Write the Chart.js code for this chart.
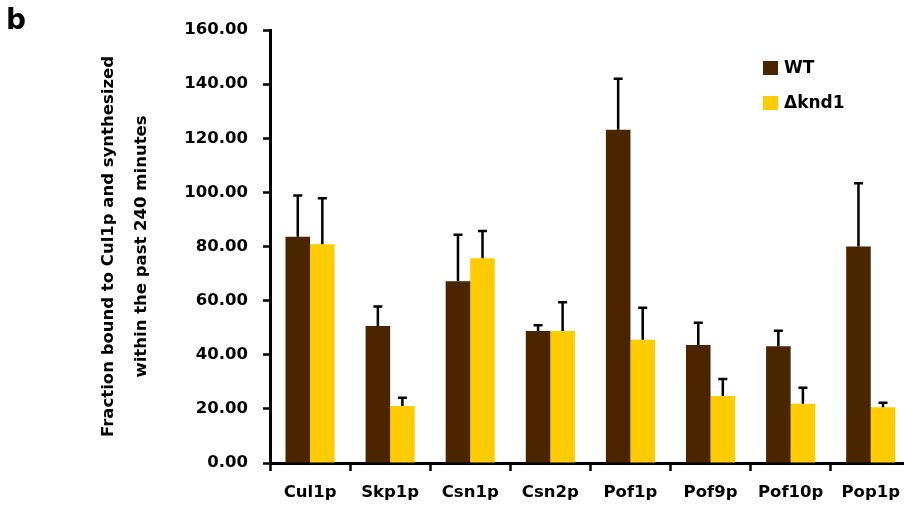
<!DOCTYPE html>
<html>
<head>
<meta charset="utf-8">
<script src="https://cdn.jsdelivr.net/npm/chart.js@4.4.1/dist/chart.umd.min.js"></script>
<style>
  html, body { margin: 0; padding: 0; background: #fff; overflow: hidden; width: 904px; height: 508px; }
  #wrap { position: relative; width: 912px; height: 508px; }
  #panel { position: absolute; left: 6px; top: 3px; font: bold 28px "DejaVu Sans"; color: #000; }
</style>
</head>
<body>
<div id="wrap">
  <canvas id="c" width="912" height="508"></canvas>
  <div id="panel">b</div>
</div>
<script>
// ---- data ----
const categories = ["Cul1p", "Skp1p", "Csn1p", "Csn2p", "Pof1p", "Pof9p", "Pof10p", "Pop1p"];
const wtValues   = [83.6, 50.6, 67.2, 48.8, 123.1, 43.6, 43.1, 80.0];
const wtErrors   = [15.2, 7.2, 17.1, 2.1, 18.9, 8.2, 5.8, 23.4];
const kndValues  = [80.8, 21.1, 75.7, 48.8, 45.5, 24.8, 21.9, 20.6];
const kndErrors  = [17.0, 3.0, 10.0, 10.6, 11.9, 6.2, 5.9, 1.7];
const seriesLabels = ["WT", "\u0394knd1"];
const yTicks = [0, 20, 40, 60, 80, 100, 120, 140, 160];

const FONT = "DejaVu Sans";

const errorBarPlugin = {
  id: 'errorBars',
  afterDatasetsDraw(chart) {
    const ctx = chart.ctx;
    const y = chart.scales.y;
    ctx.save();
    ctx.strokeStyle = '#000';
    ctx.lineWidth = 2.5;
    chart.data.datasets.forEach((ds, i) => {
      const meta = chart.getDatasetMeta(i);
      meta.data.forEach((bar, j) => {
        const top = y.getPixelForValue(ds.data[j] + ds.errors[j]);
        ctx.beginPath();
        ctx.moveTo(bar.x, bar.y);
        ctx.lineTo(bar.x, top);
        ctx.moveTo(bar.x - 4.5, top);
        ctx.lineTo(bar.x + 4.5, top);
        ctx.stroke();
      });
    });
    ctx.restore();
  }
};

const legendPlugin = {
  id: 'customLegend',
  afterDraw(chart) {
    const ctx = chart.ctx;
    ctx.save();
    ctx.font = 'bold 17px "' + FONT + '"';
    ctx.textBaseline = 'middle';
    ctx.textAlign = 'left';
    chart.data.datasets.forEach((ds, i) => {
      const cy = 68 + i * 35;
      ctx.fillStyle = ds.backgroundColor;
      ctx.fillRect(763, cy - 7, 15, 14);
      ctx.fillStyle = '#000';
      ctx.fillText(ds.label, 784, cy + 1);
    });
    ctx.restore();
  }
};

new Chart(document.getElementById('c'), {
  type: 'bar',
  data: {
    labels: categories,
    datasets: [
      { label: seriesLabels[0], data: wtValues, errors: wtErrors, backgroundColor: '#4a2500',
        categoryPercentage: 0.613, barPercentage: 1.0 },
      { label: seriesLabels[1], data: kndValues, errors: kndErrors, backgroundColor: '#ffcc00',
        categoryPercentage: 0.613, barPercentage: 1.0 }
    ]
  },
  options: {
    responsive: false,
    devicePixelRatio: 1,
    animation: false,
    layout: { padding: { top: 30, right: 0, left: 0, bottom: 0 } },
    plugins: {
      legend: { display: false },
      tooltip: { enabled: false }
    },
    scales: {
      x: {
        grid: { display: true, drawOnChartArea: false, drawTicks: true, tickLength: 8,
                tickColor: '#000', tickWidth: 2.5, offset: true },
        border: { display: true, color: '#000', width: 3 },
        ticks: { color: '#000', font: { family: FONT, size: 16.5, weight: 'bold' }, padding: 12 },
        afterFit(scale) { scale.height = 45; }
      },
      y: {
        min: 0, max: 160,
        afterBuildTicks(scale) { scale.ticks = yTicks.map(v => ({ value: v })); },
        grid: { display: true, drawOnChartArea: false, drawTicks: true, tickLength: 7,
                tickColor: '#000', tickWidth: 2.5 },
        border: { display: true, color: '#000', width: 3 },
        ticks: { color: '#000', font: { family: FONT, size: 16.5, weight: 'bold' }, padding: 15,
                 callback: v => Number(v).toFixed(2) },
        title: {
          display: true,
          text: ["Fraction bound to Cul1p and synthesized", "within the past 240 minutes"],
          color: '#000',
          font: { family: FONT, size: 16.5, weight: 'bold', lineHeight: 1.95 },
          padding: { top: 93, bottom: 0 }
        },
        afterFit(scale) { scale.width = 270; }
      }
    }
  },
  plugins: [errorBarPlugin, legendPlugin]
});
</script>
</body>
</html>
